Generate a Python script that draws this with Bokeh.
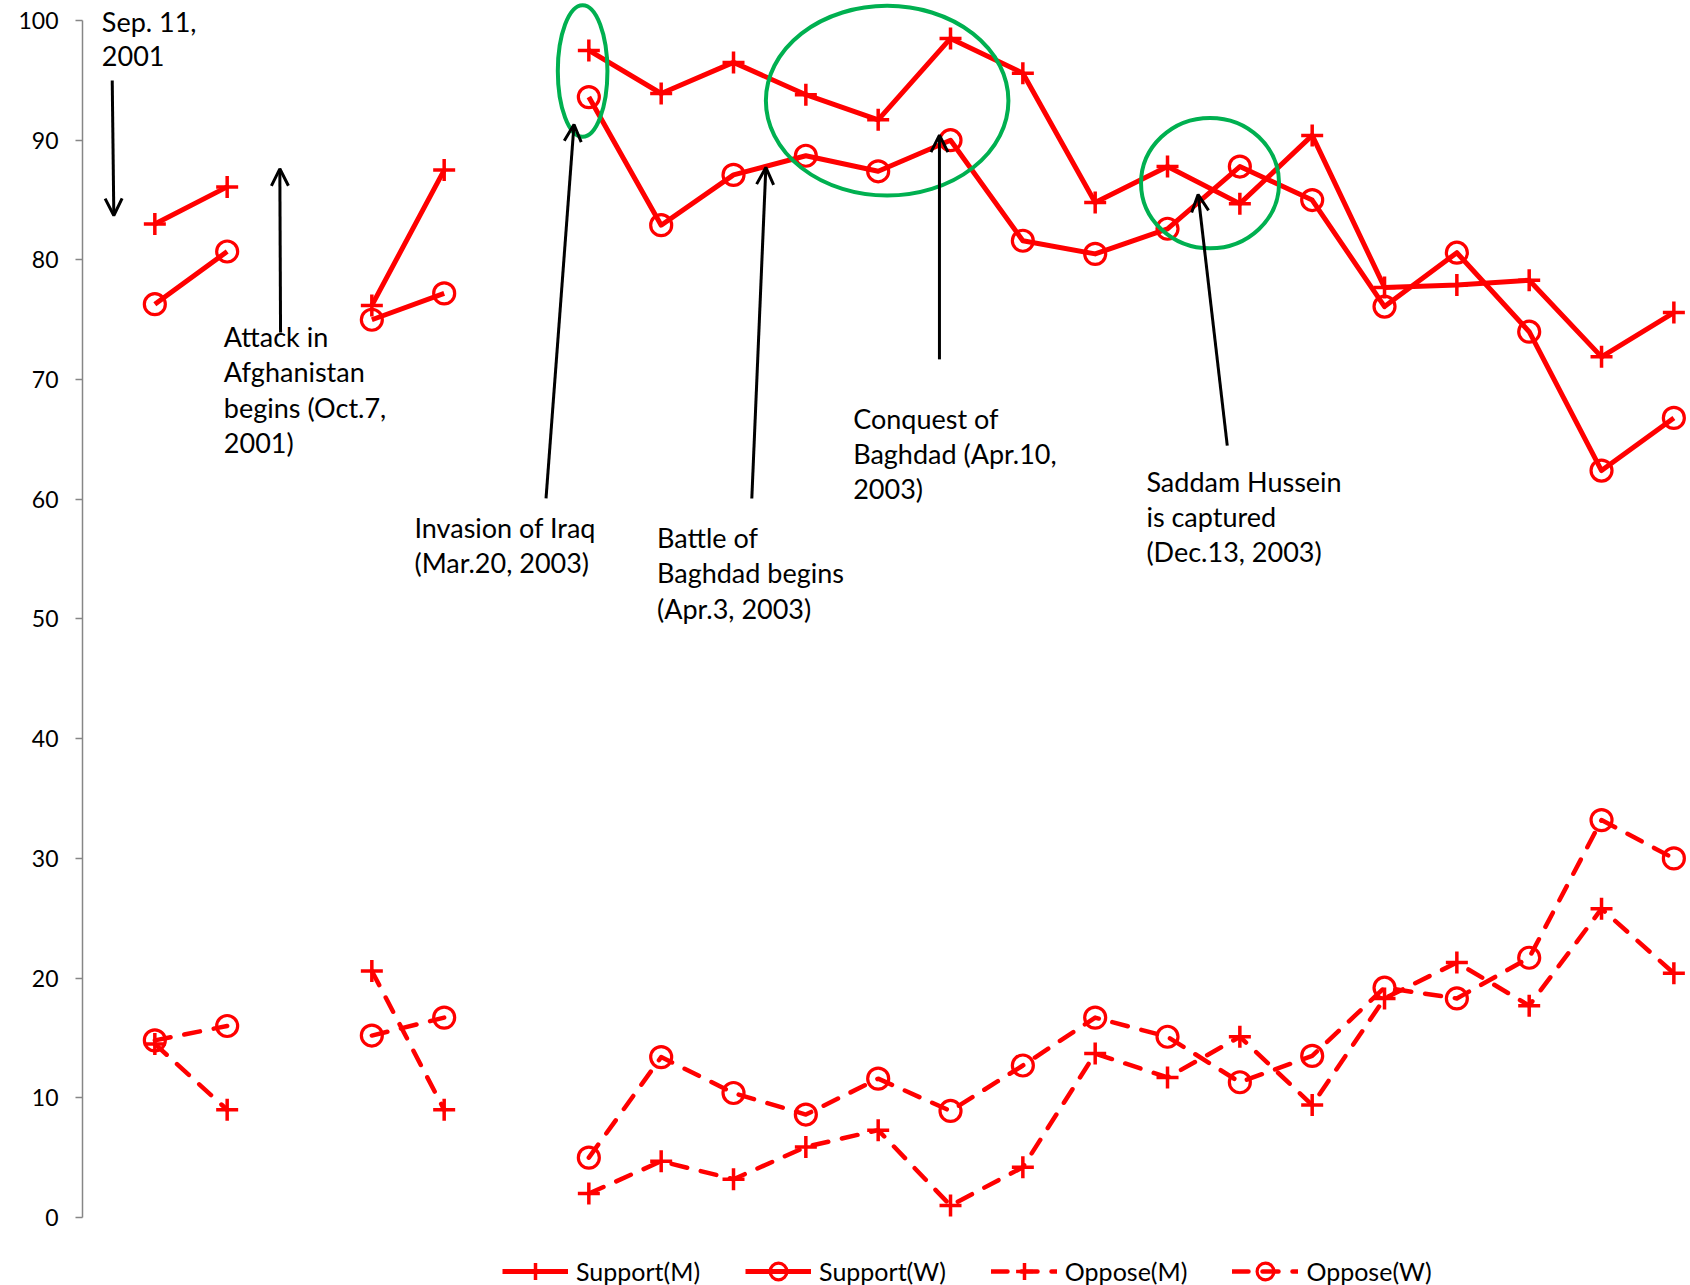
import math
from bokeh.plotting import figure
from bokeh.models import (Range1d, FixedTicker, Legend, LegendItem, Arrow, OpenHead,
                          Label, ColumnDataSource)
from bokeh.embed import file_html
from bokeh.resources import INLINE

nan = float("nan")

# survey index (positions 3 and 6 have no survey)
surveys = list(range(1, 23))
support_m = [83.0, 86.1, nan, 76.2, 87.5, nan, 97.5, 93.9, 96.5, 93.8, 91.7, 98.5, 95.6, 84.8,
             87.8, 84.7, 90.4, 77.7, 77.9, 78.3, 71.9, 75.6]
support_w = [76.3, 80.7, nan, 75.0, 77.2, nan, 93.6, 82.9, 87.1, 88.7, 87.4, 90.0, 81.6, 80.5,
             82.6, 87.8, 85.0, 76.1, 80.6, 74.0, 62.4, 66.8]
oppose_m = [14.5, 9.0, nan, 20.6, 9.0, nan, 2.0, 4.7, 3.2, 5.9, 7.3, 1.0, 4.2, 13.7,
            11.7, 15.1, 9.4, 18.3, 21.3, 17.7, 25.8, 20.4]
oppose_w = [14.8, 16.0, nan, 15.2, 16.7, nan, 5.0, 13.4, 10.4, 8.6, 11.6, 8.9, 12.7, 16.7,
            15.1, 11.3, 13.5, 19.2, 18.3, 21.7, 33.2, 30.0]
y_ticks = [0, 10, 20, 30, 40, 50, 60, 70, 80, 90, 100]
series_names = ["Support(M)", "Support(W)", "Oppose(M)", "Oppose(W)"]

RED = "#FF0000"
GREEN = "#00B050"
FONT = "Lato"

p = figure(width=1690, height=1285, output_backend="svg", toolbar_location=None,
           x_range=Range1d(0, 22.23), y_range=Range1d(-5.68, 101.67),
           x_axis_location=None, min_border_left=82, min_border_right=0,
           min_border_top=0, min_border_bottom=0)
p.outline_line_color = None
p.grid.visible = False
p.background_fill_color = "white"
p.border_fill_color = "white"

ax = p.yaxis[0]
ax.ticker = FixedTicker(ticks=y_ticks)
ax.bounds = (0, 100)
ax.minor_tick_line_color = None
ax.major_tick_in = 0
ax.major_tick_out = 7
ax.axis_line_color = "#868686"
ax.axis_line_width = 1.5
ax.major_tick_line_color = "#868686"
ax.major_tick_line_width = 1.5
ax.major_label_text_font = FONT
ax.major_label_text_font_size = "23px"
ax.major_label_text_color = "black"
ax.major_label_standoff = 17

src = ColumnDataSource(dict(x=surveys, sm=support_m, sw=support_w, om=oppose_m, ow=oppose_w))

items = []
specs = [("sm", "solid", "cross"), ("sw", "solid", "circle"),
         ("om", "16 14", "cross"), ("ow", "16 14", "circle")]
for name, (col, dash, marker) in zip(series_names, specs):
    lw = 5 if dash == "solid" else 4.5
    ln = p.line("x", col, source=src, line_color=RED, line_width=lw, line_dash=dash,
                line_cap="round" if dash != "solid" else "butt", line_join="round")
    if marker == "cross":
        mk = p.scatter("x", col, source=src, marker="cross", size=22, line_color=RED,
                       line_width=3.5)
    else:
        mk = p.scatter("x", col, source=src, marker="circle", size=21, line_color=RED,
                       line_width=3.2, fill_color=None)
    items.append(LegendItem(label=name, renderers=[ln, mk]))

legend = Legend(items=items, orientation="horizontal", location=(420, -7),
                label_text_font=FONT, label_text_font_size="25px", label_text_color="black",
                glyph_width=66, glyph_height=42, label_standoff=8, spacing=45,
                padding=0, margin=0, border_line_color=None, background_fill_alpha=0)
p.add_layout(legend, "center")

# green ellipses (annotation)
ellipses = [(6.914, 95.78, 0.686, 10.99), (11.124, 93.30, 3.353, 15.85),
            (15.588, 86.41, 1.908, 10.89)]
esrc = ColumnDataSource(dict(x=[e[0] for e in ellipses], y=[e[1] for e in ellipses],
                             w=[e[2] for e in ellipses], h=[e[3] for e in ellipses]))
p.ellipse("x", "y", width="w", height="h", source=esrc, fill_color=None,
          line_color=GREEN, line_width=4)

# arrows (annotation): tail -> head
arrows = [((0.411, 94.99), (0.433, 83.71)),
          ((2.738, 73.93), (2.728, 87.61)),
          ((6.408, 60.07), (6.795, 91.31)),
          ((9.253, 60.07), (9.447, 87.72)),
          ((11.847, 71.69), (11.847, 90.42)),
          ((15.826, 64.49), (15.423, 85.46))]
for (x0, y0), (x1, y1) in arrows:
    p.add_layout(Arrow(x_start=x0, y_start=y0, x_end=x1, y_end=y1, line_color="black",
                       line_width=3,
                       end=OpenHead(size=17, line_color="black", line_width=3)))

# annotation texts: (x, first baseline y, line step, lines)
notes = [
    (0.267, 99.90, 2.84, ["Sep. 11,", "2001"]),
    (1.954, 73.59, 2.94, ["Attack in", "Afghanistan", "begins (Oct.7,", "2001)"]),
    (4.589, 57.64, 2.96, ["Invasion of Iraq", "(Mar.20, 2003)"]),
    (7.942, 56.83, 2.97, ["Battle of", "Baghdad begins", "(Apr.3, 2003)"]),
    (10.654, 66.77, 2.925, ["Conquest of", "Baghdad (Apr.10,", "2003)"]),
    (14.708, 61.47, 2.925, ["Saddam Hussein", "is captured", "(Dec.13, 2003)"]),
]
for x, y, step, lines in notes:
    for i, t in enumerate(lines):
        p.add_layout(Label(x=x, y=y - i * step, text=t, text_font=FONT,
                           text_font_size="27px", text_color="black",
                           text_baseline="alphabetic", text_align="left"))

open("out.html", "w").write(file_html(p, INLINE))
